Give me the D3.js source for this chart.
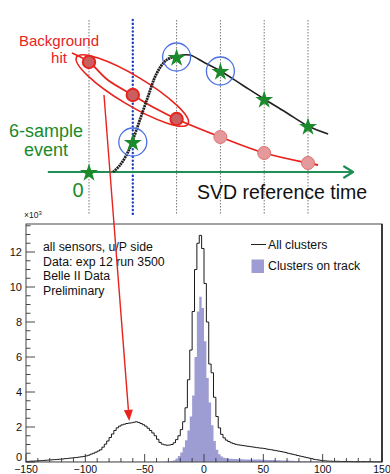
<!DOCTYPE html>
<html>
<head>
<meta charset="utf-8">
<style>
  body { margin: 0; background: #fff; }
  svg { display: block; font-family: 'Liberation Sans', Arial, sans-serif; }
</style>
</head>
<body>
<svg width="390" height="474"></svg>
<script src="https://d3js.org/d3.v7.min.js"></script>
<script>
// ---------------- DATA ----------------
// sketch: six samples (index 0..5), amplitudes in arbitrary units
const sampleIdx = [0, 1, 2, 3, 4, 5];
const signalSamples = [0, 30, 115, 101, 73, 46];
const bgSamples = [110, 77, 53, 35, 19, 9];
const circled = [1, 2, 3];

// smooth pulse drawn under the samples
const pulseT = [0.55, 0.71, 0.89, 1.0, 1.32, 1.55, 1.77, 2.0, 2.3, 2.65, 3.0, 3.5, 4.0, 4.52, 5.0, 5.46];
const pulseA = [0, 7, 20, 32, 72, 99, 112, 116, 117, 109, 101, 87, 73, 59, 46, 38];
const bgT = [-0.39, 0, 0.43, 1, 1.5, 2, 3, 4, 5, 5.23];
const bgA = [119, 110, 92, 77, 64, 53, 35, 19, 9, 7];

// histogram: 2 ns bins from -150 to 150, entries in units of 10^3
const binEdges = d3.range(-150, 151, 2);
const allClusters = [
  0.03,0.04,0.05,0.05,0.06,0.07,0.08,0.09,0.10,0.11,
  0.12,0.13,0.14,0.15,0.16,0.17,0.19,0.20,0.22,0.23,
  0.25,0.26,0.28,0.30,0.32,0.35,0.39,0.45,0.50,0.56,
  0.63,0.70,0.85,1.02,1.20,1.40,1.60,1.80,1.95,2.05,
  2.12,2.16,2.20,2.22,2.24,2.27,2.30,2.26,2.20,2.13,
  2.05,1.93,1.80,1.66,1.50,1.30,1.12,1.02,0.98,0.96,
  0.97,1.00,1.10,1.28,1.50,1.85,2.30,3.10,4.70,6.40,
  8.60,11.0,12.5,12.95,12.2,10.2,8.0,5.6,5.1,3.7,
  2.6,1.95,1.58,1.38,1.25,1.17,1.10,1.05,1.01,0.98,
  0.96,0.94,0.92,0.90,0.88,0.86,0.84,0.82,0.80,0.79,
  0.77,0.74,0.72,0.70,0.67,0.65,0.62,0.60,0.57,0.54,
  0.50,0.47,0.44,0.41,0.37,0.34,0.31,0.28,0.25,0.22,
  0.19,0.15,0.13,0.11,0.09,0.07,0.06,0.05,0.05,0.04,
  0.04,0.04,0.03,0.03,0.03,0.03,0.03,0.02,0.02,0.02,
  0.02,0.02,0.02,0.02,0.02,0.02,0.01,0.01,0.01,0.01
];
const onTrack = [
  0.01,0.01,0.01,0.01,0.01,0.01,0.01,0.01,0.01,0.01,
  0.01,0.01,0.01,0.01,0.01,0.01,0.01,0.01,0.01,0.01,
  0.01,0.01,0.01,0.01,0.01,0.02,0.02,0.02,0.02,0.02,
  0.02,0.02,0.02,0.02,0.02,0.02,0.02,0.02,0.02,0.02,
  0.02,0.02,0.02,0.02,0.02,0.02,0.02,0.02,0.02,0.02,
  0.02,0.02,0.02,0.02,0.02,0.02,0.02,0.02,0.03,0.03,
  0.04,0.06,0.10,0.20,0.35,0.55,0.85,1.25,1.80,2.60,
  3.80,6.00,8.60,9.45,8.80,6.90,4.80,3.40,2.10,1.20,
  0.70,0.45,0.32,0.25,0.21,0.19,0.18,0.17,0.17,0.16,
  0.16,0.16,0.15,0.15,0.15,0.15,0.14,0.14,0.14,0.13,
  0.13,0.12,0.12,0.11,0.11,0.10,0.10,0.09,0.09,0.08,
  0.08,0.07,0.07,0.06,0.06,0.05,0.05,0.04,0.04,0.04,
  0.03,0.03,0.03,0.02,0.02,0.02,0.02,0.02,0.01,0.01,
  0.01,0.01,0.01,0.01,0.01,0.01,0.01,0.01,0.01,0.01,
  0.01,0.01,0.01,0.01,0.01,0.01,0.01,0.01,0.01,0.01
];
const xTicks = [-150, -100, -50, 0, 50, 100, 150];
const yTicks = [0, 2, 4, 6, 8, 10, 12];
const infoLines = ["all sensors, u/P side", "Data: exp 12 run 3500", "Belle II Data", "Preliminary"];
const legendLabels = ["All clusters", "Clusters on track"];

// ---------------- SETUP ----------------
let svg = d3.select("svg");
const green = "#1a8a2a", axisGreen = "#1f8f55", red = "#e8231e", blue = "#4a6fe3", purple = "#9d9dd3";

// top sketch scales
let sx = d3.scaleLinear().domain([0, 5]).range([89, 308]);
let sy = d3.scaleLinear().domain([0, 120]).range([172, 52]);

// histogram scales
let hx = d3.scaleLinear().domain([-150, 150]).range([26, 382]);
let hy = d3.scaleLinear().domain([0, 13.6]).range([462, 224]);

// ---------------- TOP SKETCH ----------------
let sketch = svg.append("g");

// vertical sample lines
sketch.selectAll(".vline")
  .data(sampleIdx)
  .join("line")
  .attr("x1", d => sx(d)).attr("x2", d => sx(d))
  .attr("y1", 20).attr("y2", 214)
  .style("stroke", d => d == 1 ? "#2040c0" : "#777")
  .style("stroke-width", d => d == 1 ? 2.4 : 1)
  .style("stroke-dasharray", d => d == 1 ? "0.1,3.7" : "1.5,1.5")
  .style("stroke-linecap", d => d == 1 ? "round" : "butt");

// green time axis with arrow
let axY = sy(0);
sketch.append("line")
  .attr("x1", sx(-0.94)).attr("x2", sx(6.0))
  .attr("y1", axY).attr("y2", axY)
  .style("stroke", axisGreen).style("stroke-width", 2.2);
sketch.append("path")
  .attr("d", `M${sx(6.03)},${axY} l-9,-5.5 M${sx(6.03)},${axY} l-9,5.5`)
  .style("fill", "none").style("stroke", axisGreen).style("stroke-width", 2.2)
  .style("stroke-linecap", "round");

// red ellipse around background samples
let ex = (sx(0) + sx(2)) / 2 - 0.5, ey = (sy(bgSamples[0]) + sy(bgSamples[2])) / 2;
sketch.append("ellipse")
  .attr("cx", ex).attr("cy", ey)
  .attr("rx", 65).attr("ry", 14.5)
  .attr("transform", `rotate(31 ${ex} ${ey})`)
  .style("fill", "none").style("stroke", red).style("stroke-width", 1.6);

// background hit curve
let bgLine = d3.line().x((d, i) => sx(bgT[i])).y((d, i) => sy(bgA[i])).curve(d3.curveCatmullRom);
sketch.append("path")
  .attr("d", bgLine(bgT))
  .style("fill", "none").style("stroke", red).style("stroke-width", 1.8);

// signal pulse: rising (beaded) and falling part
let pLine = d3.line().x(d => sx(pulseT[d])).y(d => sy(pulseA[d])).curve(d3.curveCatmullRom);
let riseIdx = d3.range(0, 8), fallIdx = d3.range(7, pulseT.length);
sketch.append("path")
  .attr("d", pLine(riseIdx))
  .style("fill", "none").style("stroke", "#222").style("stroke-width", 2.8)
  .style("stroke-dasharray", "2,0.6");
sketch.append("path")
  .attr("d", pLine(fallIdx))
  .style("fill", "none").style("stroke", "#222").style("stroke-width", 1.6);

// background sample circles
sketch.selectAll(".bg")
  .data(sampleIdx)
  .join("circle")
  .attr("cx", d => sx(d)).attr("cy", d => sy(bgSamples[d]))
  .attr("r", d => d < 3 ? 6.2 : 6.5)
  .style("fill", d => d < 3 ? "#c95f5f" : "#e49a9a")
  .style("stroke", d => d < 3 ? red : "#e07070")
  .style("stroke-width", d => d < 3 ? 2 : 1);

// blue circles
sketch.selectAll(".bc")
  .data(circled)
  .join("circle")
  .attr("cx", d => sx(d)).attr("cy", d => sy(signalSamples[d]))
  .attr("r", 14)
  .style("fill", "none").style("stroke", blue).style("stroke-width", 1.3);

// green stars
let star = d3.symbol().type(d3.symbolStar).size(100);
sketch.selectAll(".star")
  .data(sampleIdx)
  .join("path")
  .attr("d", star)
  .attr("transform", d => `translate(${sx(d)},${sy(signalSamples[d]) + 1})`)
  .style("fill", green);

// texts
sketch.append("text").attr("x", 59).attr("y", 46).attr("text-anchor", "middle")
  .style("fill", red).style("font-size", "15px").text("Background");
sketch.append("text").attr("x", 59).attr("y", 63).attr("text-anchor", "middle")
  .style("fill", red).style("font-size", "15px").text("hit");
sketch.append("text").attr("x", 46).attr("y", 137).attr("text-anchor", "middle")
  .style("fill", green).style("font-size", "18px").text("6-sample");
sketch.append("text").attr("x", 46).attr("y", 156).attr("text-anchor", "middle")
  .style("fill", green).style("font-size", "18px").text("event");
sketch.append("text").attr("x", 78).attr("y", 197).attr("text-anchor", "middle")
  .style("fill", green).style("font-size", "20px").text("0");
sketch.append("text").attr("x", 197).attr("y", 199)
  .style("fill", "#111").style("font-size", "19.5px").text("SVD reference time");

// ---------------- HISTOGRAM ----------------
let hist = svg.append("g");

function stepPoints(vals) {
  let pts = vals.map((v, i) => [binEdges[i], v]);
  pts.push([binEdges[binEdges.length - 1], vals[vals.length - 1]]);
  return pts;
}

hist.append("path")
  .attr("d", d3.area().x(d => hx(d[0])).y0(hy(0)).y1(d => hy(d[1])).curve(d3.curveStepAfter)(stepPoints(onTrack)))
  .style("fill", purple).style("stroke", "none");

hist.append("path")
  .attr("d", d3.line().x(d => hx(d[0])).y(d => hy(d[1])).curve(d3.curveStepAfter)(stepPoints(allClusters)))
  .style("fill", "none").style("stroke", "#1a1a1a").style("stroke-width", 1);

// frame
hist.append("rect")
  .attr("x", hx(-150)).attr("y", hy(13.6))
  .attr("width", hx(150) - hx(-150)).attr("height", hy(0) - hy(13.6))
  .style("fill", "none").style("stroke", "#444").style("stroke-width", 1);
hist.append("line")
  .attr("x1", hx(150)).attr("x2", hx(150)).attr("y1", hy(13.6)).attr("y2", hy(0))
  .style("stroke", "#222").style("stroke-width", 1.6);

// x ticks (inside, pointing up)
let xMinor = d3.range(-150, 151, 10);
hist.selectAll(".xt")
  .data(xMinor)
  .join("line")
  .attr("x1", d => hx(d)).attr("x2", d => hx(d))
  .attr("y1", hy(0)).attr("y2", d => hy(0) - (d % 50 == 0 ? 8 : 4))
  .style("stroke", "#333").style("stroke-width", 0.9);
hist.selectAll(".xl")
  .data(xTicks)
  .join("text")
  .attr("x", d => hx(d)).attr("y", 473)
  .attr("text-anchor", "middle")
  .style("font-size", "10.5px").style("fill", "#111")
  .text(d => d3.format("d")(d));

// y ticks (inside, pointing right)
let yMinor = d3.range(0, 13.6, 0.5);
hist.selectAll(".yt")
  .data(yMinor)
  .join("line")
  .attr("x1", hx(-150)).attr("x2", d => hx(-150) + (d % 2 == 0 ? 9 : 4.5))
  .attr("y1", d => hy(d)).attr("y2", d => hy(d))
  .style("stroke", "#333").style("stroke-width", 0.9);
hist.selectAll(".yl")
  .data(yTicks)
  .join("text")
  .attr("x", 22).attr("y", d => d == 0 ? hy(d) - 1 : hy(d) + 4)
  .attr("text-anchor", "end")
  .style("font-size", "11px").style("fill", "#111")
  .text(d => d);

let mult = hist.append("text").attr("x", 24).attr("y", 218)
  .style("font-size", "8.5px").style("fill", "#222");
mult.append("tspan").text("×10");
mult.append("tspan").attr("dy", -3).style("font-size", "6px").text("3");

// info text
hist.selectAll(".info")
  .data(infoLines)
  .join("text")
  .attr("x", 43).attr("y", (d, i) => 251 + i * 14.6)
  .style("font-size", "12.3px").style("fill", "#111")
  .text(d => d);

// legend
hist.append("line")
  .attr("x1", 251).attr("x2", 266).attr("y1", 244.5).attr("y2", 244.5)
  .style("stroke", "#222").style("stroke-width", 1);
hist.append("rect")
  .attr("x", 251.5).attr("y", 259.5).attr("width", 12.5).attr("height", 13.5)
  .style("fill", purple);
hist.selectAll(".leg")
  .data(legendLabels)
  .join("text")
  .attr("x", 268).attr("y", (d, i) => 248.5 + i * 21)
  .style("font-size", "12.3px").style("fill", "#111")
  .text(d => d);

// ---------------- RED ARROW ----------------
let a0 = [104, 95], a1 = [hx(-63), hy(2.35)];
let ang = Math.atan2(a1[1] - a0[1], a1[0] - a0[0]);
let tip = a1, back = 11, half = 4.5;
let bx = tip[0] - back * Math.cos(ang), by = tip[1] - back * Math.sin(ang);
svg.append("line")
  .attr("x1", a0[0]).attr("y1", a0[1]).attr("x2", bx).attr("y2", by)
  .style("stroke", red).style("stroke-width", 1.4);
svg.append("path")
  .attr("d", `M${tip[0]},${tip[1]} L${bx + half * Math.sin(ang)},${by - half * Math.cos(ang)} L${bx - half * Math.sin(ang)},${by + half * Math.cos(ang)} Z`)
  .style("fill", red);
</script>
</body>
</html>
